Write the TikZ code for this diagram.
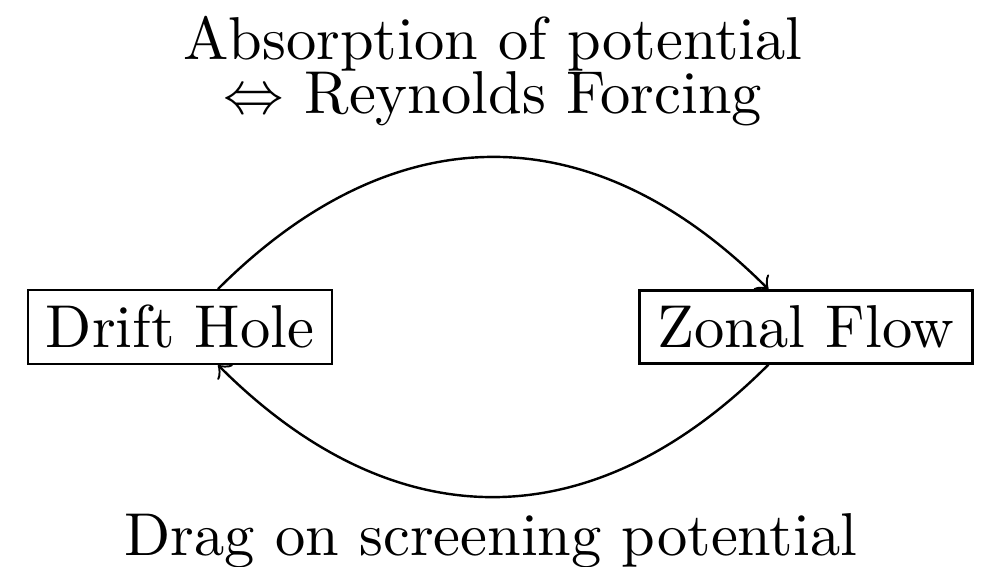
\documentclass[tikz,border=0pt]{standalone}
\usepackage{amssymb}
\usepackage{tikz}
\usetikzlibrary{positioning}

\begin{document}
\begin{tikzpicture}[x=0.1653pt, y=-0.1653pt, node distance=50.4pt, b/.style={rectangle, draw, inner xsep=3pt, inner ysep=2.5pt}]
		\useasboundingbox (0,0) rectangle (989,566);
		\node[b] (hole) at (180,327) {Drift Hole};
		\node[b, right=of hole] (zonal) {Zonal Flow};
		\node[align=center] (abs) at (493,71) {Absorption of potential\\[-3pt] $\Leftrightarrow$ Reynolds Forcing};
		\node[anchor=base] (drag) at (491,555) {Drag on screening potential};

		\path[->] (hole) edge [bend left=45, looseness=1.16] (zonal);
		\path[->] (zonal) edge [bend left=45, looseness=1.16] (hole);
	\end{tikzpicture}
\end{document}
